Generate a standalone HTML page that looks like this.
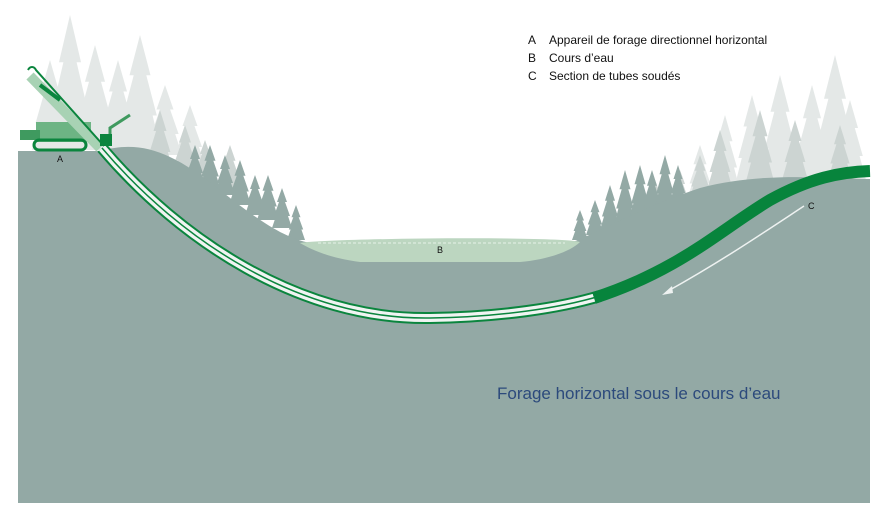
<!DOCTYPE html>
<html><head><meta charset="utf-8"><style>
body{margin:0;background:#fff;width:880px;height:522px;overflow:hidden}
svg{display:block}
text{font-family:"Liberation Sans",sans-serif}
</style></head><body>
<svg width="880" height="522" viewBox="0 0 880 522">
<g id="trees-light" fill="#e4e8e7"></g>
<g id="trees-mid" fill="#ccd4d2"></g>
<g id="trees-dark" fill="#93a9a5"></g>
<path fill="#93a9a5" d="M18,151 L100,151 C140,140 170,150 220,190 C260,222 285,238 310,243 L570,243 C600,232 640,208 700,188 C760,172 820,178 870,179 L870,503 L18,503 Z"/>
<path fill="#bcd6c0" d="M300,243 C330,238 560,236 580,242 C570,252 545,260 520,262 L360,262 C330,258 312,250 300,243 Z"/>
<line x1="318" y1="243" x2="565" y2="243" stroke="#d8e8da" stroke-width="1.5" stroke-dasharray="3 2"/>
<g fill="none">
<path d="M102,148 C180,240 300,320 430,318 C500,317 560,308 600,296" stroke="#0b853e" stroke-width="12"/>
<path d="M102,148 C180,240 300,320 430,318 C500,317 560,308 600,296" stroke="#f0f4f2" stroke-width="8"/>
<path d="M102,148 C180,240 300,320 430,318 C500,317 560,308 600,296" stroke="#0b853e" stroke-width="1.5"/>
</g>
<path fill="none" stroke="#07843c" stroke-width="12" d="M594,298 C680,270 720,230 770,200 C810,178 840,172 870,171"/>
<path fill="none" stroke="#eef2f1" stroke-width="1.5" d="M804,206 C760,235 720,262 668,291"/>
<polygon points="662,295 672,286 673,293" fill="#eef2f1"/>
<g>
<rect x="36" y="122" width="55" height="20" fill="#6db484"/>
<rect x="20" y="130" width="20" height="10" fill="#3f9a5f"/>
<rect x="34" y="140" width="52" height="10" rx="5" fill="none" stroke="#0b853e" stroke-width="3"/>
<path d="M30,76 L100,148" stroke="#a8d2b4" stroke-width="10"/>
<path d="M28,70 C30,66 34,66 36,70 L104,146" stroke="#0b853e" stroke-width="2" fill="none"/>
<path d="M40,85 L60,100" stroke="#0b853e" stroke-width="4"/>
<path d="M110,140 L110,128 L130,115" stroke="#3f9a5f" stroke-width="3" fill="none"/>
<rect x="100" y="134" width="12" height="12" fill="#0b853e"/>
</g>
<text x="57" y="162" font-size="9" fill="#111">A</text>
<text x="437" y="253" font-size="9" fill="#111">B</text>
<text x="808" y="209" font-size="9" fill="#111">C</text>
<g font-size="12" fill="#111">
<text x="528" y="44">A</text><text x="549" y="44">Appareil de forage directionnel horizontal</text>
<text x="528" y="62">B</text><text x="549" y="62">Cours d’eau</text>
<text x="528" y="80">C</text><text x="549" y="80">Section de tubes soudés</text>
</g>
<text x="497" y="399" font-size="17" fill="#2c4a7c">Forage horizontal sous le cours d’eau</text>
</svg>
<script>
function tree(g,x,base,h,w){
  const ns="http://www.w3.org/2000/svg";
  const p=document.createElementNS(ns,"polygon");
  
  
  const t=base-h;
  p.setAttribute("points",`${x},${t} ${x+w*0.25},${t+h*0.35} ${x+w*0.15},${t+h*0.35} ${x+w*0.4},${t+h*0.7} ${x+w*0.3},${t+h*0.7} ${x+w/2},${base} ${x-w/2},${base} ${x-w*0.3},${t+h*0.7} ${x-w*0.4},${t+h*0.7} ${x-w*0.15},${t+h*0.35} ${x-w*0.25},${t+h*0.35}`);
  document.getElementById(g).appendChild(p);
}
const light=[[70,150,135,44],[50,150,90,36],[95,150,105,40],[140,150,115,42],[118,150,90,36],[165,155,70,34],[190,165,60,30],[835,180,125,44],[812,180,95,36],[780,180,105,38],[752,185,90,34],[725,190,75,30],[850,180,80,32],[700,200,55,26]];
light.forEach(t=>tree('trees-light',...t));
const mid=[[160,170,60,26],[185,175,50,24],[230,190,45,22],[205,180,40,20],[720,190,60,26],[760,185,75,30],[795,180,60,26],[700,200,45,22],[680,210,40,20],[840,180,55,24],[655,215,35,18]];
mid.forEach(t=>tree('trees-mid',...t));
const dark=[[195,185,40,20],[210,190,45,22],[225,195,40,20],[240,205,45,22],[255,215,40,20],[268,220,45,22],[282,228,40,20],[296,240,35,18],[580,240,30,16],[595,235,35,18],[610,230,45,20],[625,225,55,22],[640,220,55,22],[652,215,45,20],[665,210,55,22],[678,205,40,18]];
dark.forEach(t=>tree('trees-dark',...t));
</script>
</body></html>
